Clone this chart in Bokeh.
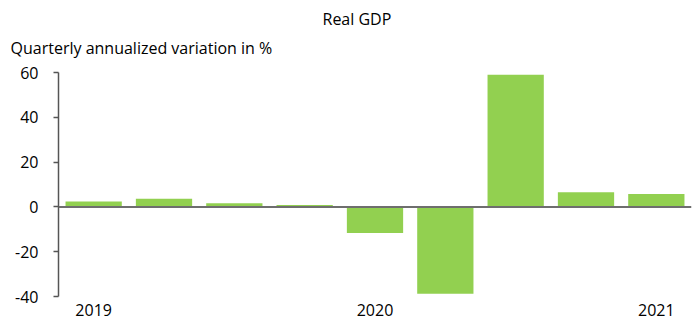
from bokeh.plotting import figure
from bokeh.models import Range1d, FactorRange, FixedTicker, Span, Title, CustomJSTickFormatter
from bokeh.embed import file_html
from bokeh.resources import INLINE

# Data
quarters = ["2019-Q1", "2019-Q2", "2019-Q3", "2019-Q4",
            "2020-Q1", "2020-Q2", "2020-Q3", "2020-Q4", "2021-Q1"]
gdp_growth = [2.4, 3.6, 1.6, 0.9, -11.6, -38.8, 59.0, 6.5, 5.8]
year_labels = {"2019-Q1": "2019", "2020-Q1": "2020", "2021-Q1": "2021"}
y_ticks = [-40, -20, 0, 20, 40, 60]

title_text = "Real GDP"
ylabel_text = "Quarterly annualized variation in %"

FONT = "Open Sans"
FS = "16px"

p = figure(width=696, height=320, output_backend="svg", toolbar_location=None,
           x_range=FactorRange(*quarters), y_range=Range1d(-40, 60),
           min_border_left=58, min_border_right=5, min_border_top=72,
           min_border_bottom=24, title=None)

p.vbar(x=quarters, top=gdp_growth, bottom=0, width=0.8,
       fill_color="#92D050", line_color=None)

p.add_layout(Span(location=0, dimension="width", line_color="#6e6e6e", line_width=2))

p.outline_line_color = None
p.xgrid.grid_line_color = None
p.ygrid.grid_line_color = None

# y axis
ya = p.yaxis[0]
ya.ticker = FixedTicker(ticks=y_ticks)
ya.major_label_overrides = {t: str(t) for t in y_ticks}
ya.axis_line_color = "#555555"
ya.axis_line_width = 1.5
ya.major_tick_line_color = "#555555"
ya.major_tick_line_width = 1.5
ya.major_tick_out = 5
ya.major_tick_in = 0
ya.minor_tick_line_color = None
ya.major_label_standoff = 15
ya.major_label_text_font = FONT
ya.major_label_text_font_size = FS
ya.major_label_text_color = "#000000"

# x axis
xa = p.xaxis[0]
xa.axis_line_color = None
xa.major_tick_line_color = None
xa.major_tick_out = 0
xa.major_tick_in = 0
xa.minor_tick_line_color = None
xa.formatter = CustomJSTickFormatter(args=dict(labels=year_labels),
                                     code="return labels[tick] || '';")
xa.major_label_standoff = 7
xa.major_label_text_font = FONT
xa.major_label_text_font_size = FS
xa.major_label_text_color = "#000000"

# y label (closest to the frame) then main title above it
p.add_layout(Title(text=ylabel_text, text_font=FONT, text_font_size=FS,
                   text_font_style="normal", text_color="#000000",
                   align="left", offset=-48, standoff=27), "above")
p.add_layout(Title(text=title_text, text_font=FONT, text_font_size=FS,
                   text_font_style="normal", text_color="#000000",
                   align="left", offset=264, standoff=-16), "above")

open("out.html", "w").write(file_html(p, INLINE))
